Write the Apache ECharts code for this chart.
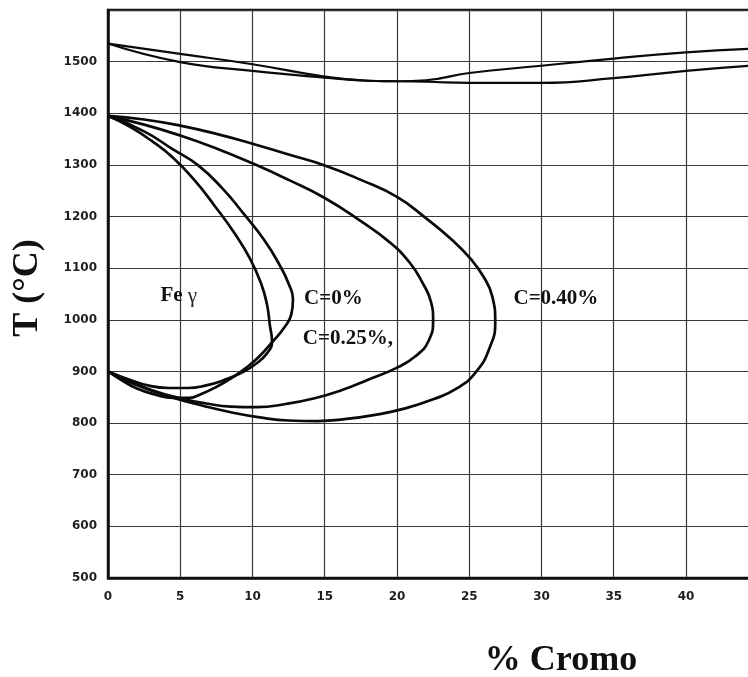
<!DOCTYPE html>
<html>
<head>
<meta charset="utf-8">
<script src="https://cdn.jsdelivr.net/npm/echarts@6/dist/echarts.min.js"></script>
<style>
  html, body { margin: 0; padding: 0; background: #fff; overflow: hidden; }
  #chart { width: 748px; height: 677px; }
</style>
</head>
<body>
<div id="chart"></div>
<script>
// Fe–Cr diagram: liquidus / solidus and the γ-loops for several carbon contents
// Points are [% Cr, T in °C]

const xTicks = [0, 5, 10, 15, 20, 25, 30, 35, 40];
const yTicks = [500, 600, 700, 800, 900, 1000, 1100, 1200, 1300, 1400, 1500];

const liquidus = [
  [0, 1535], [5, 1515], [10, 1495], [15, 1471], [18, 1463], [20, 1462],
  [22, 1464], [25, 1478], [30, 1492], [35, 1506], [40, 1518], [44.5, 1525]
];
const solidus = [
  [0, 1535], [5, 1499], [10, 1482], [15, 1469], [18, 1463], [20, 1462],
  [22, 1461], [25, 1459], [30, 1459], [35, 1468], [40, 1482], [44.5, 1492]
];

// C = 0 %, inner boundary of the γ field
const loopC0Inner = [
  [0, 1395], [1.5, 1374], [3, 1347], [4.5, 1314], [6, 1270], [7.4, 1220],
  [8.7, 1170], [9.8, 1120], [10.6, 1070], [11, 1030], [11.2, 990],
  [11.35, 958], [11, 935], [10.2, 914], [9.2, 897], [8, 883], [6.8, 873],
  [5.5, 868], [4.2, 868], [2.9, 872], [1.5, 884], [0, 900]
];
// C = 0 %, outer boundary
const loopC0Outer = [
  [0, 1395], [2.5, 1365], [4.5, 1330], [6.2, 1300], [7.9, 1255], [9.4, 1205],
  [10.8, 1155], [11.9, 1105], [12.5, 1070], [12.8, 1040], [12.7, 1012],
  [12.2, 985], [11.4, 958], [10.5, 930], [9.6, 908], [8.6, 888], [7.5, 870],
  [6.5, 857], [5.6, 849], [4.5, 849], [3.3, 855], [2, 867], [0.9, 884], [0, 900]
];
// C = 0.25 %
const loopC025 = [
  [0, 1395], [2.5, 1378], [5, 1357], [7.5, 1332], [10, 1303], [12.5, 1271],
  [15, 1236], [17.5, 1191], [19.5, 1150], [20.9, 1110], [21.8, 1070],
  [22.35, 1035], [22.5, 1000], [22.2, 960], [21.3, 930], [19.9, 906],
  [18, 884], [16.2, 864], [14.3, 848], [12.3, 837], [10.3, 831], [8.5, 832],
  [6.8, 838], [5, 848], [3, 864], [1.3, 884], [0, 900]
];
// C = 0.40 %
const loopC040 = [
  [0, 1395], [2.5, 1388], [5, 1376], [7.5, 1360], [10, 1341], [12.5, 1320],
  [15, 1299], [17.5, 1271], [20, 1238], [22, 1197], [23.8, 1155],
  [25.1, 1118], [26, 1083], [26.6, 1045], [26.8, 995], [26.4, 945],
  [25.5, 900], [24.2, 868], [22.5, 846], [20.5, 828], [18.5, 816],
  [16.5, 808], [14.5, 804], [12.5, 805], [10.5, 811], [8.5, 821],
  [6.5, 834], [4.5, 849], [2.5, 868], [1, 886], [0, 900]
];

// Region / curve labels, placed at [% Cr, T]
const labelTexts = ['{b|Fe} {g|γ}', 'C=0%', 'C=0.25%,', 'C=0.40%'];
const labelPoints = [[4.9, 1046], [15.6, 1041], [16.6, 964], [31.0, 1041]];

const chart = echarts.init(document.getElementById('chart'), null, { renderer: 'canvas' });

function curve(name, data, width) {
  return {
    name: name,
    type: 'line',
    data: data,
    smooth: 0.5,
    symbol: 'none',
    silent: true,
    lineStyle: { color: '#0a0a0a', width: width },
    z: 5
  };
}

const tickFont = {
  color: '#1e1e1e',
  fontFamily: 'DejaVu Sans',
  fontWeight: 'bold',
  fontSize: 12
};

const serifLabel = {
  color: '#111',
  fontFamily: 'Liberation Serif',
  fontWeight: 'bold',
  fontSize: 21
};

chart.setOption({
  animation: false,
  backgroundColor: '#ffffff',
  // the plot area runs past the right edge of the canvas, so its right side is not drawn
  grid: {
    left: 108, top: 10, width: 643, height: 568,
    containLabel: false,
    outerBoundsMode: 'none',
    show: true, borderColor: '#111', borderWidth: 2.5, backgroundColor: 'transparent'
  },
  xAxis: {
    type: 'value',
    min: 0, max: 44.5, interval: 5,
    axisLine: { show: true, onZero: false, lineStyle: { color: '#111', width: 2.5 } },
    axisTick: { show: false },
    splitLine: { show: true, lineStyle: { color: '#3a3a3a', width: 1.2 } },
    axisLabel: Object.assign({
      margin: 13,
      formatter: v => (xTicks.includes(v) ? String(v) : '')
    }, tickFont)
  },
  yAxis: {
    type: 'value',
    min: 500, max: 1600, interval: 100,
    axisLine: { show: true, onZero: false, lineStyle: { color: '#111', width: 2.5 } },
    axisTick: { show: false },
    splitLine: { show: true, lineStyle: { color: '#3a3a3a', width: 1.2 } },
    axisLabel: Object.assign({
      margin: 11,
      formatter: v => (yTicks.includes(v) ? String(v) : '')
    }, tickFont)
  },
  graphic: [
    {
      type: 'text',
      x: 28, y: 288,
      rotation: Math.PI / 2,
      style: {
        text: 'T (°C)',
        fill: '#111',
        font: 'bold 36px "Liberation Serif"',
        align: 'center',
        verticalAlign: 'middle'
      }
    },
    {
      type: 'text',
      x: 561, y: 661,
      style: {
        text: '% Cromo',
        fill: '#111',
        font: 'bold 36px "Liberation Serif"',
        align: 'center',
        verticalAlign: 'middle'
      }
    }
  ],
  series: [
    curve('liquidus', liquidus, 2.2),
    curve('solidus', solidus, 2.2),
    curve('C=0% (γ)', loopC0Inner, 2.7),
    curve('C=0%', loopC0Outer, 2.7),
    curve('C=0.25%', loopC025, 2.7),
    curve('C=0.40%', loopC040, 2.7),
    {
      type: 'scatter',
      silent: true,
      symbolSize: 0,
      itemStyle: { opacity: 1 },
      data: labelPoints.map((p, i) => ({ value: p, name: labelTexts[i] })),
      label: Object.assign({
        show: true,
        position: 'inside',
        textBorderWidth: 0,
        formatter: p => p.name,
        rich: {
          b: { fontFamily: 'Liberation Serif', fontWeight: 'bold', fontSize: 21, color: '#111' },
          g: { fontFamily: 'Liberation Serif', fontWeight: 'normal', fontSize: 21, color: '#222' }
        }
      }, serifLabel),
      z: 6
    }
  ]
});
</script>
</body>
</html>
